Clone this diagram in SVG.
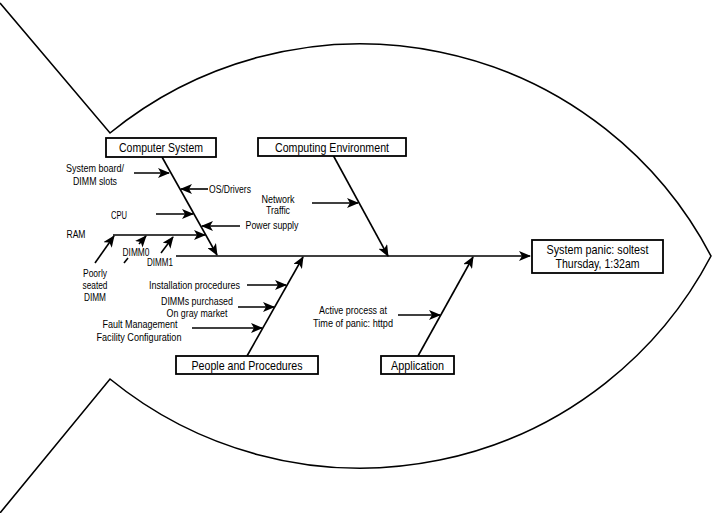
<svg xmlns="http://www.w3.org/2000/svg" width="713" height="513" viewBox="0 0 713 513">
<style>
.bg{fill:#fff}
.fish{fill:none;stroke:#000;stroke-width:1.6;stroke-linejoin:miter}
.box{fill:#fff;stroke:#000;stroke-width:1.8}
.ln{fill:none;stroke:#000;stroke-width:1.6}
.arr{fill:none;stroke:#000;stroke-width:1.6;marker-end:url(#ah)}
text{font-family:"Liberation Sans Narrow","Liberation Sans",Arial,sans-serif;fill:#000}
.t{font-size:10.5px}
.b{font-size:13px}
.m{text-anchor:middle}
.e{text-anchor:end}
</style>
<defs>
<marker id="ah" viewBox="0 0 12 10" refX="11" refY="5" markerWidth="12" markerHeight="10" markerUnits="userSpaceOnUse" orient="auto">
<path d="M0,0 L12,5 L0,10 L3,5 z" fill="#000"/>
</marker>
</defs>
<rect class="bg" x="0" y="0" width="713" height="513"/>
<g id="fish">
<path class="fish" d="M0,3 L110,133 A396,396 0 0 1 711,256 A396,396 0 0 1 110,379 L0,513"/>
</g>
<g id="connectors">
<line class="arr" x1="176" y1="256" x2="530" y2="256"/>
<line class="arr" x1="162" y1="157" x2="217" y2="255"/>
<line class="arr" x1="333" y1="155" x2="388" y2="256"/>
<line class="arr" x1="247" y1="356" x2="303" y2="257"/>
<line class="arr" x1="418" y1="356" x2="473" y2="257"/>
<line class="arr" x1="134" y1="173" x2="169" y2="173"/>
<line class="arr" x1="208" y1="189" x2="181" y2="189"/>
<line class="arr" x1="156" y1="214" x2="193" y2="214"/>
<line class="arr" x1="240" y1="226" x2="202" y2="226"/>
<line class="arr" x1="113" y1="235" x2="205" y2="235"/>
<line class="arr" x1="95" y1="263" x2="114" y2="236"/>
<line class="ln" x1="124" y1="263" x2="128" y2="258"/>
<line class="arr" x1="139" y1="244" x2="146" y2="236"/>
<line class="arr" x1="161" y1="253" x2="173" y2="237"/>
<line class="arr" x1="312" y1="203" x2="358" y2="203"/>
<line class="arr" x1="247" y1="285" x2="286" y2="285"/>
<line class="arr" x1="238" y1="307" x2="274" y2="307"/>
<line class="arr" x1="192" y1="328" x2="262" y2="328"/>
<line class="arr" x1="398" y1="315" x2="440" y2="315"/>
</g>
<g id="computer-system">
<rect class="box" x="106" y="138" width="110" height="19"/>
<text class="b m" x="161" y="152" textLength="84" lengthAdjust="spacingAndGlyphs">Computer System</text>
</g>
<g id="computing-environment">
<rect class="box" x="258" y="138" width="148" height="18"/>
<text class="b m" x="332" y="152" textLength="114" lengthAdjust="spacingAndGlyphs">Computing Environment</text>
</g>
<g id="people-and-procedures">
<rect class="box" x="176" y="356" width="142" height="18"/>
<text class="b m" x="247" y="370" textLength="111" lengthAdjust="spacingAndGlyphs">People and Procedures</text>
</g>
<g id="application">
<rect class="box" x="381" y="356" width="73" height="18"/>
<text class="b m" x="417.5" y="370" textLength="53" lengthAdjust="spacingAndGlyphs">Application</text>
</g>
<g id="system-panic">
<rect class="box" x="532" y="240" width="131" height="33"/>
<text class="b m" x="597.5" y="253.5" textLength="102" lengthAdjust="spacingAndGlyphs">System panic: soltest</text>
<text class="b m" x="597.5" y="268" textLength="84" lengthAdjust="spacingAndGlyphs">Thursday, 1:32am</text>
</g>
<g id="labels">
<text class="t m" x="95" y="172" textLength="58" lengthAdjust="spacingAndGlyphs">System board/</text>
<text class="t m" x="95" y="185" textLength="44" lengthAdjust="spacingAndGlyphs">DIMM slots</text>
<text class="t" x="209" y="193" textLength="42" lengthAdjust="spacingAndGlyphs">OS/Drivers</text>
<text class="t m" x="119" y="219" textLength="16" lengthAdjust="spacingAndGlyphs">CPU</text>
<text class="t" x="245.5" y="229" textLength="53" lengthAdjust="spacingAndGlyphs">Power supply</text>
<text class="t m" x="76" y="238" textLength="19" lengthAdjust="spacingAndGlyphs">RAM</text>
<text class="t m" x="136" y="256" textLength="27" lengthAdjust="spacingAndGlyphs">DIMM0</text>
<text class="t m" x="160" y="266" textLength="26" lengthAdjust="spacingAndGlyphs">DIMM1</text>
<text class="t m" x="95" y="277" textLength="24" lengthAdjust="spacingAndGlyphs">Poorly</text>
<text class="t m" x="95" y="289" textLength="25" lengthAdjust="spacingAndGlyphs">seated</text>
<text class="t m" x="95" y="301" textLength="22" lengthAdjust="spacingAndGlyphs">DIMM</text>
<text class="t m" x="278" y="203" textLength="33" lengthAdjust="spacingAndGlyphs">Network</text>
<text class="t m" x="278" y="214" textLength="24" lengthAdjust="spacingAndGlyphs">Traffic</text>
<text class="t e" x="240" y="289" textLength="91" lengthAdjust="spacingAndGlyphs">Installation procedures</text>
<text class="t m" x="197" y="305" textLength="72" lengthAdjust="spacingAndGlyphs">DIMMs purchased</text>
<text class="t m" x="197" y="317" textLength="61" lengthAdjust="spacingAndGlyphs">On gray market</text>
<text class="t m" x="140" y="328" textLength="75" lengthAdjust="spacingAndGlyphs">Fault Management</text>
<text class="t m" x="139" y="341" textLength="85" lengthAdjust="spacingAndGlyphs">Facility Configuration</text>
<text class="t m" x="353" y="314" textLength="68" lengthAdjust="spacingAndGlyphs">Active process at</text>
<text class="t m" x="353" y="327" textLength="80" lengthAdjust="spacingAndGlyphs">Time of panic: httpd</text>
</g>
</svg>
